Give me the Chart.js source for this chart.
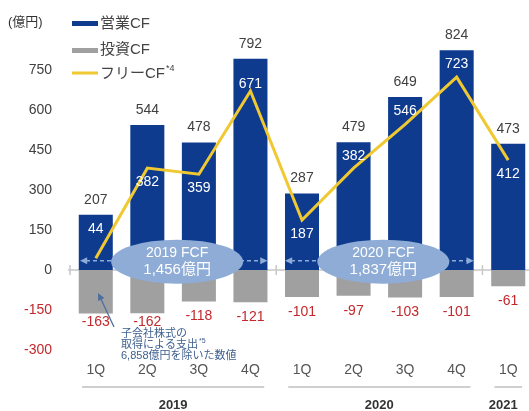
<!DOCTYPE html>
<html>
<head>
<meta charset="utf-8">
<script src="https://cdn.jsdelivr.net/npm/chart.js@4"></script>
<style>
  html, body { margin: 0; padding: 0; background: #fff; overflow: hidden; }
  #wrap { position: absolute; left: 0; top: 0; width: 540px; height: 411px; }
</style>
</head>
<body>
<div id="wrap"><canvas id="cf" width="540" height="411"></canvas></div>
<script>
// quarterly cash flow (億円)
const quarters = ['1Q', '2Q', '3Q', '4Q', '1Q', '2Q', '3Q', '4Q', '1Q'];
const years = ['2019', '2020', '2021'];
const operatingCF = [207, 544, 478, 792, 287, 479, 649, 824, 473];
const investingCF = [-163, -162, -118, -121, -101, -97, -103, -101, -61];
const freeCF = [44, 382, 359, 671, 187, 382, 546, 723, 412];
const fcfYearNames = ['2019 FCF', '2020 FCF'];
const fcfYearTotals = ['1,456億円', '1,837億円'];
const yMin = -300, yMax = 900, yStep = 150;

// where the white FCF number sits: near bar top, below or above the line point
const fcfLabelPlace = ['top', 'below', 'below', 'above', 'below', 'top', 'top', 'top', 'below'];

const FONT = "'Liberation Sans', 'Noto Sans CJK JP', sans-serif";
const NAVY = '#0e3b8e';
const GREY = '#a0a0a0';
const YELLOW = '#f0c832';
const RED = '#c3282d';
const OVAL = '#8eacd6';

function txt(ctx, s, x, y, size, color, align, weight) {
    ctx.font = (weight || '') + ' ' + size + 'px ' + FONT;
    ctx.fillStyle = color;
    ctx.textAlign = align || 'center';
    ctx.textBaseline = 'middle';
    ctx.fillText(s, x, y);
    return ctx.measureText(s).width;
}

function arrowHead(ctx, x1, y1, x2, y2, size) {
    const a = Math.atan2(y2 - y1, x2 - x1);
    ctx.beginPath();
    ctx.moveTo(x2, y2);
    ctx.lineTo(x2 - size * Math.cos(a - 0.45), y2 - size * Math.sin(a - 0.45));
    ctx.lineTo(x2 - size * Math.cos(a + 0.45), y2 - size * Math.sin(a + 0.45));
    ctx.closePath();
    ctx.fill();
}

const decorations = {
    id: 'decorations',
    beforeDatasetsDraw(chart) {
        const { ctx, scales: { x, y }, chartArea } = chart;
        const y0 = y.getPixelForValue(0);
        const step = x.getPixelForValue(1) - x.getPixelForValue(0);
        ctx.save();
        // zero line with group separators
        ctx.strokeStyle = '#c8c8c8';
        ctx.lineWidth = 1.5;
        ctx.beginPath();
        ctx.moveTo(chartArea.left - 2, y0);
        ctx.lineTo(chartArea.right, y0);
        const seps = [chartArea.left, x.getPixelForValue(3) + step / 2, x.getPixelForValue(7) + step / 2];
        seps.forEach(sx => { ctx.moveTo(sx, y0 - 5); ctx.lineTo(sx, y0 + 5); });
        ctx.stroke();
        ctx.restore();
    },
    afterDatasetsDraw(chart) {
        const { ctx, scales: { x, y }, chartArea } = chart;
        const opMeta = chart.getDatasetMeta(0);
        const invMeta = chart.getDatasetMeta(1);
        const fcfMeta = chart.getDatasetMeta(2);
        const step = x.getPixelForValue(1) - x.getPixelForValue(0);
        ctx.save();

        // value labels
        operatingCF.forEach((v, i) => {
            const b = opMeta.data[i];
            txt(ctx, String(v), b.x, b.y - 15, 14, '#404040');
        });
        investingCF.forEach((v, i) => {
            const b = invMeta.data[i];
            txt(ctx, String(v), b.x, Math.min(b.y + 15, 322), 14, RED);
        });
        freeCF.forEach((v, i) => {
            const b = opMeta.data[i];
            const p = fcfMeta.data[i];
            let ly = b.y + 14;
            if (fcfLabelPlace[i] === 'below') ly = p.y + 14;
            if (fcfLabelPlace[i] === 'above') ly = p.y - 7;
            txt(ctx, String(v), b.x, ly, 14, '#ffffff');
        });

        // dashed arrows + FCF ovals per year
        const half = opMeta.data[0].width / 2;
        const ay = y.getPixelForValue(35);
        [[0, 3], [4, 7]].forEach((g, k) => {
            const xa = k === 0 ? chartArea.left + 10 : x.getPixelForValue(g[0]) - half;
            const xb = x.getPixelForValue(g[1]) + half;
            ctx.strokeStyle = OVAL;
            ctx.fillStyle = OVAL;
            ctx.lineWidth = 1.5;
            ctx.setLineDash([4, 3]);
            ctx.beginPath();
            ctx.moveTo(xa + 6, ay);
            ctx.lineTo(xb - 6, ay);
            ctx.stroke();
            ctx.setLineDash([]);
            arrowHead(ctx, xa + 10, ay, xa, ay, 8);
            arrowHead(ctx, xb - 10, ay, xb, ay, 8);

            const cx = (x.getPixelForValue(g[0] + 1) + x.getPixelForValue(g[0] + 2)) / 2 + 4;
            const cy = ay + 1;
            ctx.beginPath();
            ctx.ellipse(cx, cy, 66, 22, 0, 0, Math.PI * 2);
            ctx.fill();
            txt(ctx, fcfYearNames[k], cx, cy - 9, 14, '#ffffff');
            txt(ctx, fcfYearTotals[k], cx, cy + 8, 15, '#ffffff');
        });

        // note on 2019 1Q investing CF
        ctx.strokeStyle = '#4d6fa0';
        ctx.fillStyle = '#4d6fa0';
        ctx.lineWidth = 1.3;
        ctx.beginPath();
        ctx.moveTo(114, 327);
        ctx.lineTo(100, 297);
        ctx.stroke();
        arrowHead(ctx, 104, 305, 98, 293, 8);
        txt(ctx, '子会社株式の', 121, 334, 11, '#3d5f8f', 'left');
        const w5 = txt(ctx, '取得による支出', 121, 345, 11, '#3d5f8f', 'left');
        txt(ctx, '*5', 122 + w5, 341, 7, '#3d5f8f', 'left');
        txt(ctx, '6,858億円を除いた数値', 121, 356, 11, '#3d5f8f', 'left');

        // category labels, year groups
        const bottom = chartArea.bottom;
        quarters.forEach((q, i) => {
            txt(ctx, q, x.getPixelForValue(i), bottom + 20, 14, '#555555');
        });
        const bounds = [chartArea.left, x.getPixelForValue(3) + step / 2, x.getPixelForValue(7) + step / 2, chartArea.right];
        years.forEach((yr, k) => {
            const l = bounds[k] + 12, r = bounds[k + 1] - 12;
            ctx.strokeStyle = '#cfcfcf';
            ctx.lineWidth = 2;
            ctx.beginPath();
            ctx.moveTo(l, bottom + 37);
            ctx.lineTo(r, bottom + 37);
            ctx.stroke();
            const lx = k === 2 ? (l + r) / 2 - 5 : (l + r) / 2;
            txt(ctx, yr, lx, bottom + 55, 13, '#333333', 'center', 'bold');
        });

        // legend
        txt(ctx, '(億円)', 8, 22, 13, '#333333', 'left');
        ctx.fillStyle = NAVY;
        ctx.fillRect(72, 21, 26, 5);
        txt(ctx, '営業CF', 100, 24, 15, '#444444', 'left');
        ctx.fillStyle = GREY;
        ctx.fillRect(72, 48, 26, 5);
        txt(ctx, '投資CF', 100, 50, 15, '#444444', 'left');
        ctx.strokeStyle = YELLOW;
        ctx.lineWidth = 3;
        ctx.beginPath();
        ctx.moveTo(72, 73);
        ctx.lineTo(98, 73);
        ctx.stroke();
        const w4 = txt(ctx, 'フリーCF', 100, 74, 15, '#444444', 'left');
        txt(ctx, '*4', 101 + w4, 69, 9, '#444444', 'left');
        ctx.restore();
    }
};

new Chart(document.getElementById('cf'), {
    data: {
        labels: quarters,
        datasets: [
            {
                type: 'bar',
                label: '営業CF',
                data: operatingCF,
                backgroundColor: NAVY,
                barPercentage: 0.66,
                categoryPercentage: 1,
                order: 2
            },
            {
                type: 'bar',
                label: '投資CF',
                data: investingCF,
                backgroundColor: GREY,
                barPercentage: 0.66,
                categoryPercentage: 1,
                order: 3
            },
            {
                type: 'line',
                label: 'フリーCF',
                data: freeCF,
                borderColor: YELLOW,
                borderWidth: 3,
                pointRadius: 0,
                tension: 0,
                fill: false,
                order: 1
            }
        ]
    },
    options: {
        responsive: false,
        devicePixelRatio: 1,
        animation: false,
        layout: { padding: { left: 0, right: 6, top: 30, bottom: 61 } },
        plugins: {
            legend: { display: false },
            tooltip: { enabled: false }
        },
        scales: {
            x: {
                display: false,
                stacked: true,
                offset: true
            },
            y: {
                min: yMin,
                max: yMax,
                stacked: false,
                afterFit(scale) { scale.width = 70; },
                grid: { display: false, drawTicks: false },
                border: { display: false },
                ticks: {
                    stepSize: yStep,
                    padding: 18,
                    font: { family: FONT, size: 14 },
                    color: ctx => (ctx.tick && ctx.tick.value < 0 ? RED : '#404040'),
                    callback: v => (v === yMax ? '' : v)
                }
            }
        }
    },
    plugins: [decorations]
});
</script>
</body>
</html>
